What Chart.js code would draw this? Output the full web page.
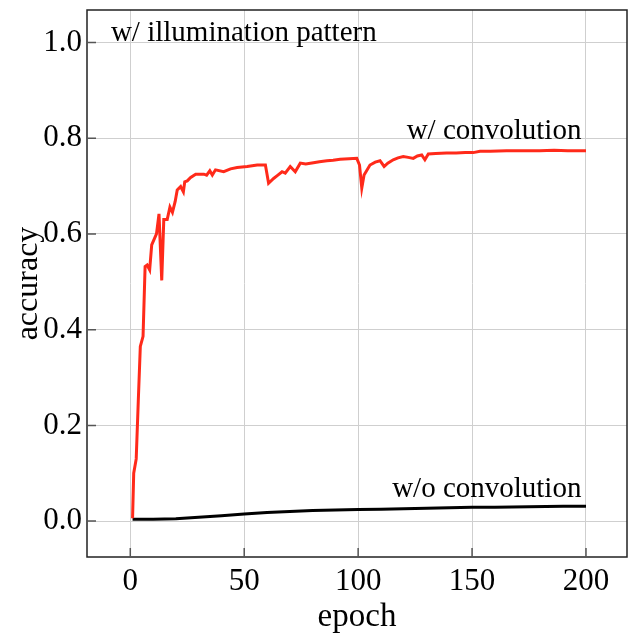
<!DOCTYPE html>
<html>
<head>
<meta charset="utf-8">
<script src="https://cdn.jsdelivr.net/npm/chart.js@4.4.1/dist/chart.umd.min.js"></script>
<style>
  html, body { margin: 0; padding: 0; background: #fff; }
  #wrap { width: 633px; height: 638px; }
</style>
</head>
<body>
<div id="wrap"><canvas id="c" width="633" height="638"></canvas></div>
<script>
const xTicks = [0, 50, 100, 150, 200];
const yTicks = [0.0, 0.2, 0.4, 0.6, 0.8, 1.0];

const convEpochs = [1, 1.5, 2.6, 3.5, 4.4, 5.6, 6.5, 7.4, 8.5, 9.4, 10.4, 11.5, 12.6, 13.8, 14.7, 16.2, 17.4, 18.5, 19.7, 20.6, 22.1, 23.3, 23.9, 25, 26.5, 28.7, 32.3, 33.5, 34.9, 36, 37.4, 41, 44, 46.9, 51.3, 55.7, 59.3, 60.7, 62.9, 64.5, 66.6, 68, 70.2, 72.4, 74.6, 77, 80.4, 83, 86.3, 89, 92.1, 96, 99.4, 100.6, 101.6, 102.6, 105.2, 107.5, 109.6, 111.4, 113, 115.4, 117.5, 119.8, 122, 124.2, 126, 127.9, 129.3, 130.8, 134, 138.8, 143, 147, 150.5, 153.5, 158, 165.1, 172, 179.7, 186, 192, 200];
const convAcc = [0.006, 0.10, 0.13, 0.25, 0.365, 0.386, 0.532, 0.535, 0.525, 0.577, 0.588, 0.60, 0.642, 0.503, 0.63, 0.63, 0.656, 0.645, 0.668, 0.692, 0.699, 0.688, 0.709, 0.711, 0.718, 0.725, 0.725, 0.723, 0.732, 0.723, 0.734, 0.730, 0.736, 0.739, 0.741, 0.744, 0.744, 0.706, 0.716, 0.722, 0.730, 0.727, 0.741, 0.730, 0.748, 0.746, 0.749, 0.751, 0.753, 0.754, 0.756, 0.757, 0.758, 0.744, 0.696, 0.723, 0.744, 0.750, 0.753, 0.741, 0.748, 0.755, 0.759, 0.762, 0.760, 0.758, 0.763, 0.765, 0.755, 0.767, 0.768, 0.769, 0.769, 0.770, 0.770, 0.773, 0.773, 0.774, 0.774, 0.774, 0.775, 0.774, 0.774];

const noConvEpochs = [1, 10, 20, 30, 40, 50, 60, 70, 80, 90, 100, 110, 120, 130, 140, 150, 160, 175, 190, 200];
const noConvAcc = [0.004, 0.004, 0.005, 0.008, 0.011, 0.015, 0.018, 0.020, 0.022, 0.023, 0.024, 0.025, 0.026, 0.027, 0.028, 0.029, 0.029, 0.030, 0.031, 0.031];

const labels = [
  { text: 'w/ illumination pattern', x: -8.5, y: 1.02, align: 'left' },
  { text: 'w/ convolution', x: 198, y: 0.815, align: 'right' },
  { text: 'w/o convolution', x: 198, y: 0.067, align: 'right' }
];

const FONT = '"Liberation Serif", "Times New Roman", serif';

const annot = {
  id: 'annot',
  afterDraw(chart) {
    const ctx = chart.ctx, xs = chart.scales.x, ys = chart.scales.y, a = chart.chartArea;
    ctx.save();
    ctx.strokeStyle = '#222';
    ctx.lineWidth = 1.5;
    ctx.strokeRect(a.left, a.top, a.right - a.left, a.bottom - a.top);
    ctx.strokeStyle = '#555';
    ctx.lineWidth = 1.5;
    ctx.beginPath();
    xTicks.forEach(v => { const px = xs.getPixelForValue(v); ctx.moveTo(px, a.bottom); ctx.lineTo(px, a.bottom - 9); });
    yTicks.forEach(v => { const py = ys.getPixelForValue(v); ctx.moveTo(a.left, py); ctx.lineTo(a.left + 9, py); });
    ctx.stroke();
    ctx.fillStyle = '#000';
    ctx.font = '29px ' + FONT;
    ctx.textBaseline = 'middle';
    labels.forEach(l => {
      ctx.textAlign = l.align;
      ctx.fillText(l.text, xs.getPixelForValue(l.x), ys.getPixelForValue(l.y));
    });
    ctx.restore();
  }
};

new Chart(document.getElementById('c'), {
  type: 'line',
  data: {
    datasets: [
      {
        label: 'w/ convolution',
        data: convEpochs.map((e, i) => ({ x: e, y: convAcc[i] })),
        borderColor: '#ff2a1a',
        borderWidth: 3,
        pointRadius: 0,
        tension: 0,
        fill: false
      },
      {
        label: 'w/o convolution',
        data: noConvEpochs.map((e, i) => ({ x: e, y: noConvAcc[i] })),
        borderColor: '#000',
        borderWidth: 3,
        pointRadius: 0,
        tension: 0,
        fill: false
      }
    ]
  },
  options: {
    responsive: false,
    animation: false,
    devicePixelRatio: 1,
    layout: { padding: { top: 10, right: 6, left: 0, bottom: 0 } },
    plugins: { legend: { display: false }, tooltip: { enabled: false } },
    scales: {
      x: {
        type: 'linear',
        min: -19,
        max: 218,
        afterBuildTicks(s) { s.ticks = xTicks.map(v => ({ value: v })); },
        afterFit(s) { s.height = 81; s.paddingLeft = 0; s.paddingRight = 0; },
        grid: { color: '#cfcfcf', lineWidth: 1, drawTicks: false },
        border: { display: false },
        ticks: { color: '#000', font: { family: FONT, size: 31 }, padding: 6, maxRotation: 0 },
        title: { display: true, text: 'epoch', color: '#000', font: { family: FONT, size: 33 }, padding: { top: 0, bottom: 1 } }
      },
      y: {
        type: 'linear',
        min: -0.075,
        max: 1.068,
        afterBuildTicks(s) { s.ticks = yTicks.map(v => ({ value: v })); },
        afterFit(s) { s.width = 87; s.paddingTop = 0; s.paddingBottom = 0; },
        grid: { color: '#cfcfcf', lineWidth: 1, drawTicks: false },
        border: { display: false },
        ticks: { color: '#000', font: { family: FONT, size: 31 }, padding: 5, callback: v => v.toFixed(1) },
        title: { display: true, text: 'accuracy', color: '#000', font: { family: FONT, size: 32 }, padding: { top: 9, bottom: 0 } }
      }
    }
  },
  plugins: [annot]
});
</script>
</body>
</html>
